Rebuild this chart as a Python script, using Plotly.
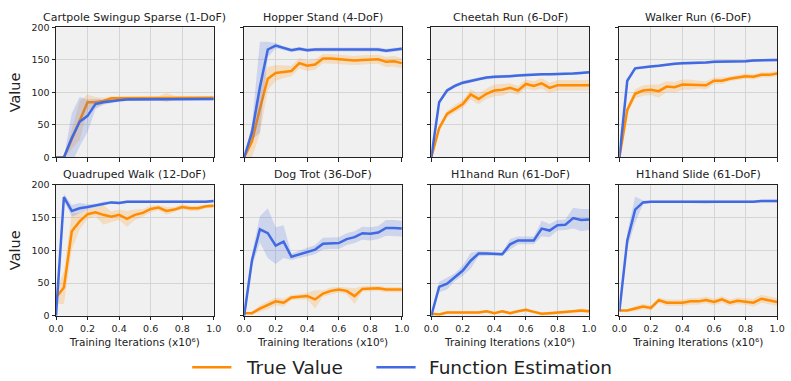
import numpy as np
import plotly.graph_objects as go

# Training progress (x10^6 iterations)
ITERS = [0.0, 0.05, 0.1, 0.15, 0.2, 0.25, 0.3, 0.35, 0.4, 0.45, 0.5,
         0.55, 0.6, 0.65, 0.7, 0.75, 0.8, 0.85, 0.9, 0.95, 1.0]

TITLES = ["Cartpole Swingup Sparse (1-DoF)", "Hopper Stand (4-DoF)",
          "Cheetah Run (6-DoF)", "Walker Run (6-DoF)",
          "Quadruped Walk (12-DoF)", "Dog Trot (36-DoF)",
          "H1hand Run (61-DoF)", "H1hand Slide (61-DoF)"]

Y_TICKS = [0, 50, 100, 150, 200]
X_TICKS = [0.0, 0.2, 0.4, 0.6, 0.8, 1.0]
X_TICK_TEXT = ["0.0", "0.2", "0.4", "0.6", "0.8", "1.0"]

# --- mean and spread for each task ---
CARTPOLE_TRUE = [0, 0, 28, 57, 85, 85, 87, 91, 91, 91, 92, 92, 92, 91, 92, 92, 92, 92, 92, 92, 92]
CARTPOLE_TRUE_SD = [0, 0, 15, 30, 12, 8, 5, 3, 3, 3, 3, 3, 3, 3, 7, 3, 3, 3, 3, 3, 3]
CARTPOLE_EST = [0, 0, 30, 55, 64, 82, 85, 87, 88, 89, 89, 90, 89, 90, 89, 90, 90, 90, 90, 90, 90]
CARTPOLE_EST_SD = [0, 0, 38, 38, 25, 8, 4, 3, 2, 2, 2, 2, 2, 2, 2, 2, 2, 2, 2, 2, 2]

HOPPER_TRUE = [0, 25, 75, 121, 130, 132, 133, 145, 141, 143, 152, 152, 151, 150, 149, 150, 151, 151, 147, 148, 145]
HOPPER_TRUE_SD = [0, 25, 38, 18, 12, 10, 8, 8, 8, 8, 7, 7, 7, 7, 7, 7, 7, 7, 8, 8, 8]
HOPPER_EST = [0, 39, 108, 166, 172, 168, 165, 167, 165, 166, 166, 166, 166, 166, 167, 166, 166, 166, 164, 166, 167]
HOPPER_EST_SD = [0, 12, 70, 12, 4, 3, 3, 3, 3, 3, 3, 3, 3, 3, 3, 3, 3, 3, 3, 3, 3]

CHEETAH_TRUE = [0, 45, 67, 75, 82, 97, 90, 98, 103, 104, 107, 103, 113, 110, 114, 107, 111, 111, 111, 111, 111]
CHEETAH_TRUE_SD = [0, 5, 5, 6, 6, 8, 8, 8, 9, 9, 7, 7, 7, 7, 8, 8, 8, 8, 8, 8, 8]
CHEETAH_EST = [0, 85, 103, 110, 115, 118, 121, 123, 124, 124, 125, 126, 127, 127, 128, 128, 128, 129, 129, 130, 131]
CHEETAH_EST_SD = [0, 3, 3, 3, 3, 3, 2, 2, 2, 2, 2, 2, 2, 2, 2, 2, 2, 2, 2, 2, 2]

WALKER_TRUE = [0, 73, 98, 103, 104, 102, 109, 108, 112, 112, 112, 111, 118, 118, 121, 123, 125, 124, 127, 127, 129]
WALKER_TRUE_SD = [0, 6, 7, 8, 8, 10, 8, 8, 8, 8, 6, 6, 5, 5, 4, 4, 4, 4, 4, 4, 4]
WALKER_EST = [0, 118, 137, 139, 140, 141, 143, 144, 145, 145, 145, 146, 147, 147, 148, 148, 148, 149, 149, 150, 150]
WALKER_EST_SD = [0, 3, 2, 2, 2, 2, 2, 2, 2, 2, 2, 2, 2, 2, 2, 2, 2, 2, 2, 2, 2]

QUADRUPED_TRUE = [28, 43, 129, 144, 155, 158, 154, 151, 154, 148, 154, 157, 163, 165, 160, 162, 166, 164, 164, 167, 168]
QUADRUPED_TRUE_SD = [10, 25, 28, 12, 7, 6, 15, 8, 8, 12, 8, 6, 5, 4, 6, 4, 4, 4, 4, 3, 3]
QUADRUPED_EST = [0, 181, 160, 164, 166, 168, 171, 173, 172, 174, 174, 174, 173, 173, 174, 174, 174, 174, 174, 174, 175]
QUADRUPED_EST_SD = [0, 5, 9, 8, 4, 3, 3, 2, 2, 2, 2, 2, 2, 2, 2, 2, 2, 2, 2, 2, 2]

DOG_TRUE = [4, 4, 11, 16, 22, 20, 28, 29, 30, 25, 34, 38, 40, 38, 30, 41, 41, 42, 40, 40, 40]
DOG_TRUE_SD = [0, 2, 5, 6, 6, 6, 4, 4, 5, 14, 5, 5, 4, 5, 12, 4, 4, 4, 4, 4, 4]
DOG_EST = [0, 85, 132, 126, 107, 113, 90, 94, 97, 101, 110, 111, 111, 117, 120, 126, 125, 127, 134, 134, 133]
DOG_EST_SD = [0, 10, 20, 38, 28, 25, 5, 5, 6, 7, 9, 9, 9, 9, 9, 10, 10, 10, 12, 12, 12]

H1RUN_TRUE = [3, 2, 5, 5, 6, 5, 5, 7, 4, 7, 4, 7, 9, 6, 3, 4, 5, 5, 6, 8, 7]
H1RUN_TRUE_SD = [1, 1, 2, 2, 2, 2, 2, 2, 2, 2, 2, 2, 3, 2, 2, 2, 2, 2, 2, 3, 3]
H1RUN_EST = [0, 44, 49, 59, 69, 84, 95, 95, 95, 94, 109, 115, 115, 115, 133, 130, 138, 139, 149, 146, 147]
H1RUN_EST_SD = [0, 8, 9, 6, 8, 12, 4, 3, 3, 3, 8, 6, 6, 6, 12, 10, 8, 8, 16, 17, 16]

H1SLIDE_TRUE = [8, 8, 11, 14, 12, 24, 20, 20, 20, 22, 22, 24, 21, 25, 20, 23, 22, 20, 26, 23, 21]
H1SLIDE_TRUE_SD = [2, 2, 4, 4, 4, 4, 5, 5, 5, 5, 5, 5, 5, 5, 5, 5, 5, 6, 6, 6, 6]
H1SLIDE_EST = [7, 115, 162, 173, 174, 174, 174, 174, 174, 174, 174, 173, 174, 174, 174, 174, 174, 174, 175, 175, 175]
H1SLIDE_EST_SD = [0, 12, 20, 3, 2, 2, 2, 2, 2, 2, 2, 2, 2, 2, 2, 2, 2, 2, 2, 2, 2]

PANELS = [
    (CARTPOLE_TRUE, CARTPOLE_TRUE_SD, CARTPOLE_EST, CARTPOLE_EST_SD),
    (HOPPER_TRUE, HOPPER_TRUE_SD, HOPPER_EST, HOPPER_EST_SD),
    (CHEETAH_TRUE, CHEETAH_TRUE_SD, CHEETAH_EST, CHEETAH_EST_SD),
    (WALKER_TRUE, WALKER_TRUE_SD, WALKER_EST, WALKER_EST_SD),
    (QUADRUPED_TRUE, QUADRUPED_TRUE_SD, QUADRUPED_EST, QUADRUPED_EST_SD),
    (DOG_TRUE, DOG_TRUE_SD, DOG_EST, DOG_EST_SD),
    (H1RUN_TRUE, H1RUN_TRUE_SD, H1RUN_EST, H1RUN_EST_SD),
    (H1SLIDE_TRUE, H1SLIDE_TRUE_SD, H1SLIDE_EST, H1SLIDE_EST_SD),
]

SERIES = [("True Value", "#ff8c00", "rgba(255,140,0,0.2)"),
          ("Function Estimation", "#4169e1", "rgba(65,105,225,0.2)")]

W, H = 791, 381
FONT = "DejaVu Sans"
TEXT = "#222222"
COL_PX = [(49, 210), (241, 402), (432, 593), (624, 785)]
ROW_PX = [(22, 156), (184, 319)]
# legend key placement: (line start, line end, label start) in px
LEGEND_PX = [(188, 228, 241), (376, 416, 428)]
LEGEND_Y = 372

fig = go.Figure()
x = np.array(ITERS)

for i, (t_mean, t_sd, e_mean, e_sd) in enumerate(PANELS):
    ax = "" if i == 0 else str(i + 1)
    xref, yref = "x" + ax, "y" + ax
    for (name, color, fill), mean, sd in zip(SERIES, (t_mean, e_mean), (t_sd, e_sd)):
        m = np.array(mean, dtype=float)
        s = np.array(sd, dtype=float)
        fig.add_trace(go.Scatter(
            x=np.concatenate([x, x[::-1]]),
            y=np.concatenate([m + s, (m - s)[::-1]]),
            fill="toself", fillcolor=fill, line=dict(width=0),
            mode="lines", hoverinfo="skip", showlegend=False,
            xaxis=xref, yaxis=yref))
        fig.add_trace(go.Scatter(
            x=x, y=m, mode="lines", name=name,
            line=dict(color=color, width=2.5),
            showlegend=False,
            xaxis=xref, yaxis=yref))

layout = {}
for i in range(8):
    r, c = divmod(i, 4)
    x0, x1 = COL_PX[c]
    y0, y1 = ROW_PX[r]
    ax = "" if i == 0 else str(i + 1)
    common = dict(showline=True, linecolor=TEXT, linewidth=1, mirror=True,
                  ticks="outside", ticklen=3.5, tickcolor=TEXT, tickwidth=1,
                  showgrid=True, gridcolor="#d5d5d5", gridwidth=1, zeroline=False,
                  tickfont=dict(family=FONT, size=9.5, color=TEXT))
    layout["xaxis" + ax] = dict(
        domain=[x0 / W, x1 / W], anchor="y" + ax, range=[0, 1],
        tickvals=X_TICKS, ticktext=X_TICK_TEXT, showticklabels=(r == 1),
        title=dict(text="Training Iterations (x10⁶)" if r == 1 else "",
                   font=dict(family=FONT, size=10.5, color=TEXT), standoff=5),
        **common)
    layout["yaxis" + ax] = dict(
        domain=[1 - y1 / H, 1 - y0 / H], anchor="x" + ax, range=[0, 200],
        tickvals=Y_TICKS, showticklabels=(c == 0),
        title=dict(text="Value" if c == 0 else "",
                   font=dict(family=FONT, size=14.5, color=TEXT), standoff=7),
        **common)

annotations = []
for i, title in enumerate(TITLES):
    r, c = divmod(i, 4)
    x0, x1 = COL_PX[c]
    y0, _ = ROW_PX[r]
    annotations.append(dict(
        text=title, xref="paper", yref="paper",
        x=(x0 + x1) / 2 / W, y=1 - (y0 - 10) / H,
        xanchor="center", yanchor="middle", showarrow=False,
        font=dict(family=FONT, size=11, color=TEXT)))

# figure-level key for the two series
shapes = []
for (name, color, _), (lx0, lx1, tx) in zip(SERIES, LEGEND_PX):
    shapes.append(dict(type="line", xref="paper", yref="paper",
                       x0=lx0 / W, x1=lx1 / W,
                       y0=1 - LEGEND_Y / H, y1=1 - LEGEND_Y / H,
                       line=dict(color=color, width=2.5)))
    annotations.append(dict(
        text=name, xref="paper", yref="paper",
        x=tx / W, y=1 - LEGEND_Y / H, xanchor="left", yanchor="middle",
        showarrow=False, font=dict(family=FONT, size=18.5, color=TEXT)))

fig.update_layout(
    width=W, height=H, margin=dict(l=0, r=0, t=0, b=0),
    paper_bgcolor="white", plot_bgcolor="#f0f0f0",
    font=dict(family=FONT, color=TEXT),
    annotations=annotations, shapes=shapes, showlegend=False,
    **layout)

fig.write_html("out.html")
